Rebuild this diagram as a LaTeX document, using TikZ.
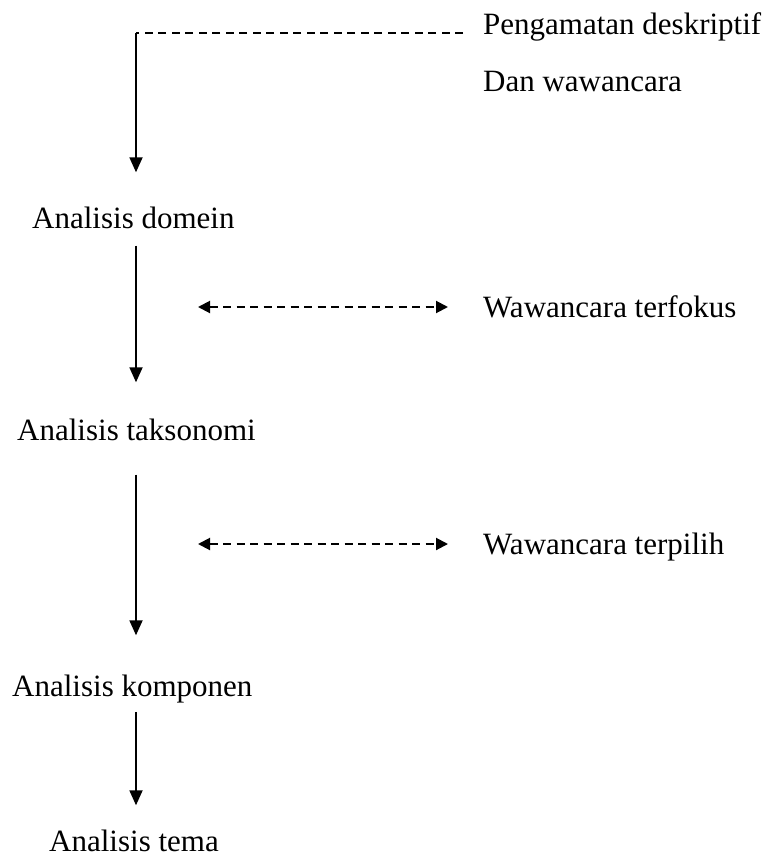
\documentclass[tikz,border=0pt]{standalone}
\usepackage{fontspec}
\setmainfont{Liberation Serif}
\usetikzlibrary{arrows.meta}

\tikzset{
  lbl/.style={anchor=base west, inner sep=0pt, font=\fontsize{31}{36}\selectfont},
  flow/.style={line width=1.8pt, -{Triangle[length=15pt,width=13pt]}},
  dsh/.style={line width=2pt, dash pattern=on 8pt off 5.5pt},
  dbl/.style={dsh, {Triangle[length=12pt,width=12pt]}-{Triangle[length=12pt,width=12pt]}}
}

\begin{document}
\begin{tikzpicture}[x=1pt,y=-1pt]
  \useasboundingbox (0,0) rectangle (766,859);

  \node[lbl] (obs) at (483,35) {Pengamatan deskriptif};
  \node[lbl] (dan) at (483,91) {Dan wawancara};
  \node[lbl] (dom) at (32,228) {Analisis domein};
  \node[lbl] (fok) at (483,317) {Wawancara terfokus};
  \node[lbl] (tak) at (17,440) {Analisis taksonomi};
  \node[lbl] (pil) at (483,554) {Wawancara terpilih};
  \node[lbl] (kom) at (12,696) {Analisis komponen};
  \node[lbl] (tem) at (49,851) {Analisis tema};

  \coordinate (top) at (136,33);
  \coordinate (f1) at (198,307);
  \coordinate (p1) at (198,544);

  % top: observation feeds the first analysis
  \draw[dsh, shorten <=20pt] (top -| obs.west) -- (top);
  \draw[flow, shorten >=34pt] (top) -- (top |- dom.north);

  \draw[flow, shorten <=17pt, shorten >=36pt] (dom.south -| top) -- (tak.north -| top);
  \draw[flow, shorten <=34pt, shorten >=39pt] (tak.south -| top) -- (kom.north -| top);
  \draw[flow, shorten <=9pt, shorten >=24pt] (kom.south -| top) -- (tem.north -| top);

  \draw[dbl, shorten >=35pt] (f1) -- (f1 -| fok.west);
  \draw[dbl, shorten >=35pt] (p1) -- (p1 -| pil.west);
\end{tikzpicture}
\end{document}
